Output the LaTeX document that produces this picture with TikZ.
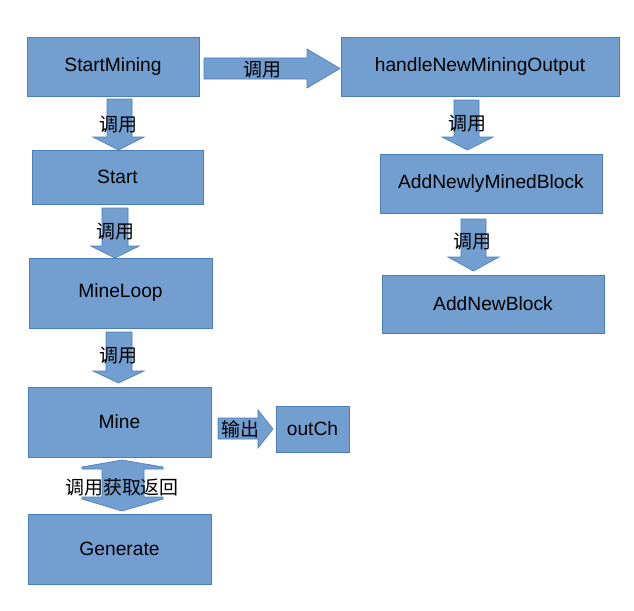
\documentclass[tikz,border=0pt]{standalone}
\usepackage{fontspec}
\setmainfont{Liberation Sans}
\newfontfamily\cjk{Noto Sans CJK SC}
\definecolor{boxfill}{HTML}{729FCF}
\definecolor{boxline}{HTML}{4A7EBB}
\tikzset{
  box/.style={draw=boxline, fill=boxfill, line width=0.6pt, inner sep=0pt,
    font=\fontsize{14.4}{17}\selectfont},
  blk/.style={draw=boxline, fill=boxfill, line width=0.5pt, line join=miter},
  lbl/.style={font=\cjk\fontsize{14.2}{17}\selectfont, inner sep=0pt},
}
% down block arrow: shaft x1 x2, head h1 h2, y top, y neck, y tip
\newcommand\blkdown[7]{\path[blk] (#1,#5) -- (#2,#5) -- (#2,#6) -- (#4,#6) -- ({(#3+#4)/2},#7) -- (#3,#6) -- (#1,#6) -- cycle;}
% right block arrow: x left, x neck, x tip, shaft y1 y2, head y1 y2
\newcommand\blkright[7]{\path[blk] (#1,#4) -- (#2,#4) -- (#2,#6) -- (#3,{(#6+#7)/2}) -- (#2,#7) -- (#2,#5) -- (#1,#5) -- cycle;}
\begin{document}
\begin{tikzpicture}[x=0.75pt,y=-0.75pt]
\useasboundingbox (0,0) rectangle (634,610);
\fill[white] (0,0) rectangle (634,610);

% boxes
\node[box, minimum width=129pt, minimum height=44.25pt] (sm) at (113,66.5) {StartMining};
\node[box, minimum width=208.5pt, minimum height=44.25pt] (hn) at (480,66.5) {handleNewMiningOutput};
\node[box, minimum width=128.25pt, minimum height=40.5pt] (st) at (117.5,177) {Start};
\node[box, minimum width=137.25pt, minimum height=52.5pt] (ml) at (120.5,293) {MineLoop};
\node[box, minimum width=137.25pt, minimum height=52.5pt] (mi) at (119.5,422) {Mine};
\node[box, minimum width=54.75pt, minimum height=34.5pt] (oc) at (312.5,429) {outCh};
\node[box, minimum width=137.25pt, minimum height=52.5pt] (ge) at (119.5,549) {Generate};
\node[box, minimum width=166.5pt, minimum height=44.25pt] (an) at (491,183.5) {AddNewlyMinedBlock};
\node[box, minimum width=166.5pt, minimum height=43.5pt] (ab) at (493,304) {AddNewBlock};

% block arrows
\blkright{204}{307}{340}{58}{79}{49}{88}
\blkdown{107}{132}{93}{144}{99}{137}{150}
\blkdown{102}{128}{91}{139}{208}{246}{258}
\blkdown{106}{132}{93}{144}{332}{371}{383}
\blkright{218}{258}{273}{418}{439}{410}{448}
\blkdown{454}{479}{442}{493}{100}{137}{150}
\blkdown{461}{486}{448}{499}{219}{257}{271}
\path[blk] (122,460) -- (163,467) -- (163,469) -- (144,469) -- (144,497) -- (163,497) -- (163,499) -- (122,511)
  -- (82,499) -- (82,497) -- (102,497) -- (102,469) -- (82,469) -- (82,467) -- cycle;

% labels
\node[lbl] (l1) at (262,70) {调用};
\node[lbl] (l2) at (118,125) {调用};
\node[lbl] (l3) at (115,232) {调用};
\node[lbl] (l4) at (118,356) {调用};
\node[lbl] (l5) at (467,124) {调用};
\node[lbl] (l6) at (472,242) {调用};
\node[lbl] (l7) at (240,429) {输出};
\node[lbl] (l8) at (122,487) {调用获取返回};
\end{tikzpicture}
\end{document}
